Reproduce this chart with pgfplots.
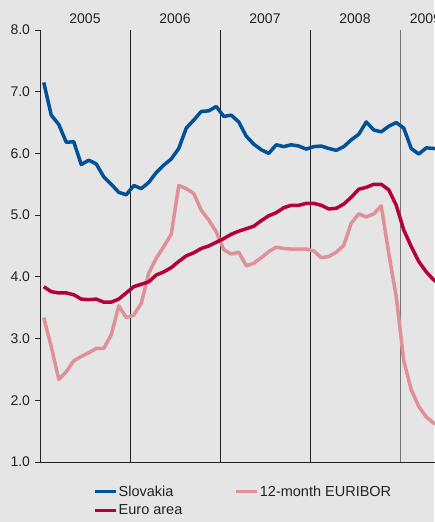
\documentclass[border=0pt]{standalone}
\usepackage{pgfplots}
\pgfplotsset{compat=1.18}
\usepackage{fontspec}
\setmainfont{Liberation Sans}

\definecolor{bg}{HTML}{E5E5E5}
\definecolor{skblue}{HTML}{00509A}
\definecolor{eured}{HTML}{B4003C}
\definecolor{eupink}{HTML}{DE9196}
\definecolor{txt}{HTML}{222222}

\pgfplotstableread{
x y
0.5 7.15
1.5 6.62
2.5 6.47
3.5 6.18
4.5 6.19
5.5 5.82
6.5 5.89
7.5 5.83
8.5 5.62
9.5 5.50
10.5 5.37
11.5 5.33
12.5 5.48
13.5 5.43
14.5 5.53
15.5 5.69
16.5 5.81
17.5 5.91
18.5 6.08
19.5 6.41
20.5 6.54
21.5 6.68
22.5 6.69
23.5 6.76
24.5 6.60
25.5 6.62
26.5 6.51
27.5 6.28
28.5 6.15
29.5 6.06
30.5 6.00
31.5 6.14
32.5 6.11
33.5 6.14
34.5 6.12
35.5 6.07
36.5 6.11
37.5 6.12
38.5 6.08
39.5 6.05
40.5 6.11
41.5 6.22
42.5 6.31
43.5 6.51
44.5 6.38
45.5 6.35
46.5 6.44
47.5 6.50
48.5 6.41
49.5 6.08
50.5 5.99
51.5 6.09
52.5 6.08
53.5 6.07
54.5 6.05
}\slovakia

\pgfplotstableread{
x y
0.5 3.84
1.5 3.76
2.5 3.74
3.5 3.74
4.5 3.71
5.5 3.64
6.5 3.63
7.5 3.64
8.5 3.59
9.5 3.59
10.5 3.64
11.5 3.74
12.5 3.84
13.5 3.88
14.5 3.92
15.5 4.03
16.5 4.08
17.5 4.15
18.5 4.25
19.5 4.34
20.5 4.39
21.5 4.46
22.5 4.50
23.5 4.56
24.5 4.62
25.5 4.69
26.5 4.74
27.5 4.78
28.5 4.82
29.5 4.91
30.5 4.99
31.5 5.04
32.5 5.12
33.5 5.16
34.5 5.16
35.5 5.19
36.5 5.19
37.5 5.16
38.5 5.10
39.5 5.11
40.5 5.18
41.5 5.29
42.5 5.42
43.5 5.45
44.5 5.50
45.5 5.50
46.5 5.41
47.5 5.16
48.5 4.76
49.5 4.49
50.5 4.25
51.5 4.08
52.5 3.95
53.5 3.86
54.5 3.80
}\euroarea

\pgfplotstableread{
x y
0.5 3.34
1.5 2.87
2.5 2.34
3.5 2.46
4.5 2.64
5.5 2.71
6.5 2.77
7.5 2.84
8.5 2.84
9.5 3.06
10.5 3.53
11.5 3.34
12.5 3.38
13.5 3.57
14.5 4.06
15.5 4.30
16.5 4.49
17.5 4.69
18.5 5.48
19.5 5.43
20.5 5.35
21.5 5.08
22.5 4.92
23.5 4.73
24.5 4.44
25.5 4.37
26.5 4.40
27.5 4.18
28.5 4.22
29.5 4.31
30.5 4.41
31.5 4.48
32.5 4.46
33.5 4.45
34.5 4.45
35.5 4.45
36.5 4.42
37.5 4.31
38.5 4.33
39.5 4.40
40.5 4.51
41.5 4.87
42.5 5.02
43.5 4.97
44.5 5.02
45.5 5.15
46.5 4.38
47.5 3.68
48.5 2.64
49.5 2.17
50.5 1.90
51.5 1.73
52.5 1.63
53.5 1.58
54.5 1.55
}\euribor

\begin{document}
\begin{tikzpicture}
\fill[bg] (0,0) rectangle (434pt,522pt);
\begin{axis}[
  at={(40pt,60pt)}, anchor=south west,
  scale only axis, width=412.5pt, height=432pt,
  xmin=0, xmax=55, ymin=1, ymax=8,
  clip=false,
  axis x line=bottom, axis y line=left,
  axis line style={-, txt, line width=0.8pt},
  xtick={12,24,36}, xticklabels={},
  extra x ticks={48}, extra x tick labels={},
  extra x tick style={grid style={color=gray!90!black, line width=1pt}},
  xmajorgrids, grid style={color=txt, line width=0.8pt},
  x tick style={draw=none},
  ytick={1,2,...,8},
  y tick style={txt, line width=0.8pt},
  tick align=outside, major tick length=5pt,
  y tick label style={/pgf/number format/fixed, /pgf/number format/fixed zerofill,
    /pgf/number format/precision=1, /pgf/number format/assume math mode=true,
    font=\fontsize{14}{16}\selectfont, text=txt, xshift=-1.5pt},
  legend columns=2,
  legend style={at={(axis description cs:0.1285,-0.052)}, anchor=north west,
    draw=none, fill=none, inner sep=0pt, text=txt,
    font=\fontsize{14.5}{17}\selectfont, row sep=5pt,
    nodes={inner sep=1pt},
    /tikz/every even column/.append style={column sep=51pt}},
  legend cell align=left,
  legend image code/.code={\draw[line width=3.5pt] (0pt,0pt) -- (21pt,0pt);},
  every axis plot/.append style={line width=3.5pt, line join=round, no markers},
]
\addplot[skblue] table {\slovakia};
\addlegendentry{Slovakia}
\addplot[eupink] table {\euribor};
\addlegendentry{12-month EURIBOR}
\addplot[eured] table {\euroarea};
\addlegendentry{Euro area}

\node[anchor=base, yshift=6pt, text=txt, font=\fontsize{14}{16}\selectfont] at (axis cs:6,8) {2005};
\node[anchor=base, yshift=6pt, text=txt, font=\fontsize{14}{16}\selectfont] at (axis cs:18,8) {2006};
\node[anchor=base, yshift=6pt, text=txt, font=\fontsize{14}{16}\selectfont] at (axis cs:30,8) {2007};
\node[anchor=base, yshift=6pt, text=txt, font=\fontsize{14}{16}\selectfont] at (axis cs:42,8) {2008};
\node[anchor=base, yshift=6pt, text=txt, font=\fontsize{14}{16}\selectfont] at (axis cs:51.4,8) {2009};
\end{axis}
\pgfresetboundingbox
\path[use as bounding box] (0,0) rectangle (434pt,522pt);
\end{tikzpicture}
\end{document}
